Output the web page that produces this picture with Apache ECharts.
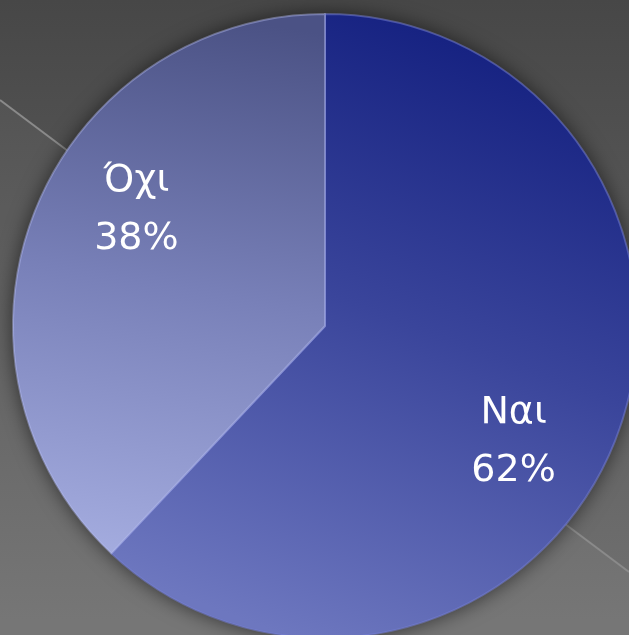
<!DOCTYPE html>
<html>
<head>
<meta charset="utf-8">
<script src="https://cdn.jsdelivr.net/npm/echarts@6/dist/echarts.min.js"></script>
<style>
html,body{margin:0;padding:0;background:#5a5a5a;}
#chart{width:629px;height:635px;}
</style>
</head>
<body>
<div id="chart"></div>
<script>
const categories = ['Ναι', 'Όχι'];
const values = [62, 38];

const sliceFills = [
  {type:'linear', x:0.8, y:0, x2:0.35, y2:1, colorStops:[{offset:0,color:'#101c7d'},{offset:0.5,color:'#3a459b'},{offset:1,color:'#6d77bf'}]},
  {type:'linear', x:0.6, y:0, x2:0.3, y2:1, colorStops:[{offset:0,color:'#4b5285'},{offset:0.5,color:'#7880b8'},{offset:1,color:'#a4acdf'}]}
];
const sliceBorders = ['rgba(120,130,215,0.5)', 'rgba(185,193,245,0.42)'];

const chart = echarts.init(document.getElementById('chart'));
const W = 629, H = 635;
const cx = 325, cy = 326, R = 312;

chart.setOption({
  backgroundColor: {type:'linear', x:0, y:0, x2:0, y2:1, colorStops:[{offset:0,color:'#474747'},{offset:1,color:'#727272'}]},
  animation: false,
  graphic: [
    {type:'polygon', z:-10, silent:true, shape:{points:[[0,100],[W,572],[W,H],[0,H]]}, style:{fill:'rgba(255,255,255,0.035)'}},
    {type:'line', z:-9, silent:true, shape:{x1:0,y1:100,x2:W,y2:572}, style:{stroke:'#8a8a8a', lineWidth:2}}
  ],
  series: [
    {
      type:'pie', silent:true, center:[cx,cy], radius:R, z:1,
      label:{show:false}, labelLine:{show:false},
      itemStyle:{color:'#3c3f66', shadowBlur:20, shadowColor:'rgba(0,0,0,0.6)'},
      data:[{value:1, name:''}]
    },
    {
      type:'pie', silent:true, center:[cx,cy], radius:R, z:2,
      startAngle:90, clockwise:true,
      label:{show:false}, labelLine:{show:false},
      emphasis:{disabled:true},
      data: categories.map((c,i)=>({name:c, value:values[i], itemStyle:{color:sliceFills[i], borderColor:sliceBorders[i], borderWidth:2}}))
    },
    {
      type:'pie', silent:true, center:[cx,cy], radius:[R*0.4,R], z:3,
      startAngle:80, clockwise:true,
      itemStyle:{color:'rgba(0,0,0,0)'},
      labelLine:{show:false},
      emphasis:{disabled:true},
      label:{
        show:true, position:'inside', color:'#ffffff',
        fontFamily:'DejaVu Sans', fontSize:38, lineHeight:58,
        formatter: p => p.name + '\n' + Math.round(p.percent) + '%'
      },
      data: categories.map((c,i)=>({name:c, value:values[i]}))
    }
  ]
});
</script>
</body>
</html>
